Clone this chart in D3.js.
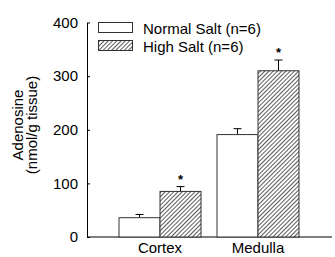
<!DOCTYPE html>
<html>
<head>
<meta charset="utf-8">
<script src="https://cdn.jsdelivr.net/npm/d3@7"></script>
<style>
  body { margin: 0; background: #fff; }
  text { font-family: "Liberation Sans", Arial, sans-serif; fill: #000; }
</style>
</head>
<body>
<svg id="chart"></svg>
<script>
// datos
const regions = ["Cortex", "Medulla"];
const groups = ["Normal Salt (n=6)", "High Salt (n=6)"];
const normalVals = [36, 191];
const normalErr = [6, 11];
const highVals = [85, 310];
const highErr = [9, 20];
const significant = [true, true];
const yTicks = [0, 100, 200, 300, 400];

const svg_w = 335, svg_h = 257;
const margin = {l: 87, r: 3, t: 22, b: 20};
const fs = 15;

const svg = d3.select("#chart").attr("width", svg_w).attr("height", svg_h);

// patrón de rayas diagonales
const defs = svg.append("defs");
const pat = defs.append("pattern")
  .attr("id", "hatch")
  .attr("patternUnits", "userSpaceOnUse")
  .attr("width", 3).attr("height", 3)
  .attr("patternTransform", "rotate(45)");
pat.append("rect").attr("width", 3).attr("height", 3).attr("fill", "#fff");
pat.append("line").attr("x1", 0).attr("y1", 0).attr("x2", 0).attr("y2", 3)
  .attr("stroke", "#000").attr("stroke-width", 1.3);

const y = d3.scaleLinear().domain([0, 400]).range([237, 22.5]);
const x0 = d3.scaleBand().domain(regions).range([119, 299]).paddingInner(0.163).paddingOuter(0);
const x1 = d3.scaleBand().domain(groups).range([0, x0.bandwidth()]);

// eje y
const yAxis = svg.append("g")
  .attr("transform", `translate(${margin.l},0)`)
  .call(d3.axisLeft(y).tickValues(yTicks).tickSizeInner(-3).tickSizeOuter(0).tickPadding(9));
yAxis.select(".domain").attr("stroke", "#000");
yAxis.selectAll(".tick line").attr("stroke", "#000");
yAxis.selectAll(".tick text").attr("font-size", fs).attr("font-family", "Liberation Sans, Arial, sans-serif");

// eje x (solo línea base)
svg.append("line")
  .attr("x1", margin.l).attr("x2", 332)
  .attr("y1", y(0)).attr("y2", y(0))
  .attr("stroke", "#000");

const series = [
  {name: groups[0], vals: normalVals, err: normalErr, fill: "#fff"},
  {name: groups[1], vals: highVals, err: highErr, fill: "url(#hatch)"}
];

series.forEach((s, si) => {
  const g = svg.append("g");
  // barras de error (solo hacia arriba)
  g.selectAll("line.err")
    .data(regions)
    .enter().append("line")
    .attr("x1", (d) => x0(d) + x1(s.name) + x1.bandwidth() / 2)
    .attr("x2", (d) => x0(d) + x1(s.name) + x1.bandwidth() / 2)
    .attr("y1", (d, i) => y(s.vals[i]))
    .attr("y2", (d, i) => y(s.vals[i] + s.err[i]))
    .attr("stroke", "#000");
  g.selectAll("line.cap")
    .data(regions)
    .enter().append("line")
    .attr("x1", (d) => x0(d) + x1(s.name) + x1.bandwidth() / 2 - 4)
    .attr("x2", (d) => x0(d) + x1(s.name) + x1.bandwidth() / 2 + 4)
    .attr("y1", (d, i) => y(s.vals[i] + s.err[i]))
    .attr("y2", (d, i) => y(s.vals[i] + s.err[i]))
    .attr("stroke", "#000");
  g.selectAll("rect")
    .data(regions)
    .enter().append("rect")
    .attr("x", (d) => x0(d) + x1(s.name))
    .attr("y", (d, i) => y(s.vals[i]))
    .attr("width", x1.bandwidth())
    .attr("height", (d, i) => y(0) - y(s.vals[i]))
    .attr("fill", s.fill)
    .attr("stroke", "#333")
    .attr("stroke-width", 1);
  // asteriscos
  if (si === 1) {
    g.selectAll("text.star")
      .data(regions)
      .enter().append("text")
      .attr("x", (d) => x0(d) + x1(s.name) + x1.bandwidth() / 2)
      .attr("y", (d, i) => y(s.vals[i] + s.err[i]) - 3)
      .attr("text-anchor", "middle")
      .attr("font-size", 13)
      .attr("font-weight", "bold")
      .text((d, i) => significant[i] ? "*" : "");
  }
});

// etiquetas del eje x
svg.selectAll("text.xlab")
  .data(regions)
  .enter().append("text")
  .attr("x", (d) => x0(d) + x0.bandwidth() / 2)
  .attr("y", 253)
  .attr("text-anchor", "middle")
  .attr("font-size", fs)
  .text((d) => d);

// título del eje y
const yl = svg.append("text")
  .attr("transform", "translate(23,125) rotate(-90)")
  .attr("text-anchor", "middle")
  .attr("font-size", fs);
yl.append("tspan").attr("x", 0).attr("dy", 0).text("Adenosine");
yl.append("tspan").attr("x", 0).attr("dy", 14).text("(nmol/g tissue)");

// leyenda
const legend = svg.append("g");
series.forEach((s, i) => {
  legend.append("rect")
    .attr("x", 98.5).attr("y", 22.5 + i * 18)
    .attr("width", 34).attr("height", 10)
    .attr("fill", s.fill).attr("stroke", "#333");
  legend.append("text")
    .attr("x", 143).attr("y", 33.5 + i * 18)
    .attr("font-size", fs)
    .text(s.name);
});
</script>
</body>
</html>
